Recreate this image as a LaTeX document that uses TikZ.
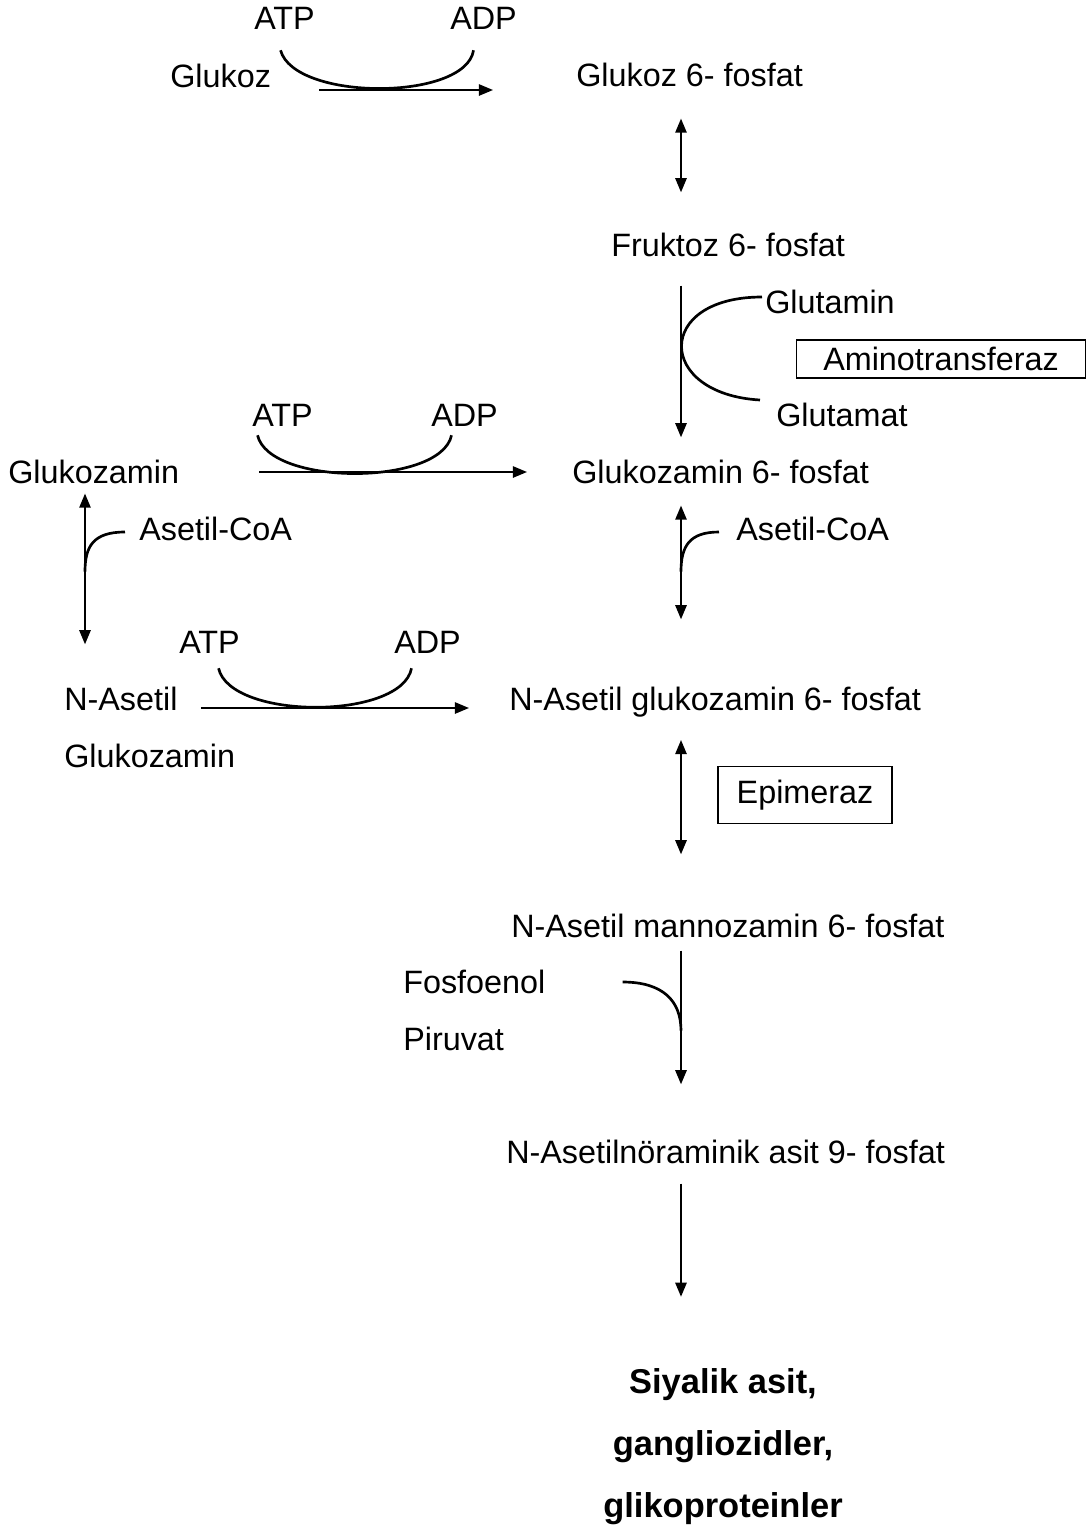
\documentclass[tikz,border=0pt]{standalone}
\usepackage{fontspec}
\setmainfont{Liberation Sans}
\usetikzlibrary{arrows.meta,calc}

\begin{document}
\begin{tikzpicture}[x=0.025cm, y=-0.025cm,
    lbl/.style={anchor=base west, inner sep=0pt, font=\fontsize{23}{27}\selectfont},
    prod/.style={anchor=base, inner sep=0pt, font=\fontsize{24.5}{29}\selectfont\bfseries},
    enzyme/.style={draw, line width=1.2pt, inner sep=0pt, font=\fontsize{23}{27}\selectfont},
    rxn/.style={-{Triangle[length=10pt,width=8pt]}, line width=1.3pt},
    rev/.style={{Triangle[length=10pt,width=8pt]}-{Triangle[length=10pt,width=8pt]}, line width=1.3pt},
    cof/.style={line width=1.9pt}
  ]
  \useasboundingbox (0,0) rectangle (1088,1528);
  \coordinate (ax) at (681,0);
  \coordinate (lax) at (85,0);

  \node[lbl] (atp1) at (254,29) {ATP};
  \node[lbl] (adp1) at (450,29) {ADP};
  \node[lbl] (glk) at (170,87) {Glukoz};
  \node[lbl] (g6p) at (576,86) {Glukoz 6- fosfat};
  \node[lbl] (f6p) at (611,256) {Fruktoz 6- fosfat};
  \node[lbl] (gln) at (765,313) {Glutamin};
  \node[enzyme, minimum width=7.225cm, minimum height=0.95cm] (amt) at (941,359) {Aminotransferaz};
  \node[lbl] (glu) at (776,426) {Glutamat};
  \node[lbl] (atp2) at (252,426) {ATP};
  \node[lbl] (adp2) at (431,426) {ADP};
  \node[lbl] (gam) at (8,483) {Glukozamin};
  \node[lbl] (gam6p) at (572,483) {Glukozamin 6- fosfat};
  \node[lbl] (aca1) at (139,540) {Asetil-CoA};
  \node[lbl] (aca2) at (736,540) {Asetil-CoA};
  \node[lbl] (atp3) at (179,653) {ATP};
  \node[lbl] (adp3) at (394,653) {ADP};
  \node[lbl] (nag) at (64,710) {N-Asetil};
  \node[lbl] (nag2) at (64,767) {Glukozamin};
  \node[lbl] (nag6p) at (509,710) {N-Asetil glukozamin 6- fosfat};
  \node[enzyme, minimum width=4.35cm, minimum height=1.425cm] (epi) at (805,795) {Epimeraz};
  \node[lbl] (nam6p) at (511,937) {N-Asetil mannozamin 6- fosfat};
  \node[lbl] (pep) at (403,993) {Fosfoenol};
  \node[lbl] (pep2) at (403,1050) {Piruvat};
  \node[lbl] (neu9p) at (506,1163) {N-Asetilnöraminik asit 9- fosfat};
  \node[prod] (sia1) at (723,1393) {Siyalik asit,};
  \node[prod] (sia2) at (723,1455) {gangliozidler,};
  \node[prod] (sia3) at (723,1517) {glikoproteinler};

  \draw[rxn] ($(glk.base east)+(48,3)$) -- ($(g6p.base west)+(-83,4)$);
  \draw[cof] ($(atp1.south)+(-4,21)$) .. controls +(14,51) and +(-8,51) .. ($(adp1.south)+(-10,21)$);
  \draw[rev] ($(g6p.south -| ax)+(0,32)$) -- ($(f6p.north -| ax)+(0,-40)$);
  \draw[rxn] ($(f6p.south -| ax)+(0,29)$) -- ($(gam6p.north -| ax)+(0,-22)$);
  \draw[cof] ($(gln.base west)+(-3,-16)$) .. controls +(-108,0) and +(-104,-6) .. ($(glu.base west)+(-16,-26)$);

  \draw[rxn] ($(gam.base east)+(80,-11)$) -- ($(gam6p.base west)+(-45,-11)$);
  \draw[cof] ($(atp2.south)+(-25,9)$) .. controls +(12,51) and +(-11,51) .. ($(adp2.south)+(-13,9)$);
  \draw[rev] ($(gam.south -| lax)+(0,10)$) -- ($(nag.north -| lax)+(0,-42)$);
  \draw[cof] ($(aca1.base west)+(-14,-8)$) .. controls +(-32,0) and +(0,-25) .. ($(gam.south -| lax)+(0,88)$);
  \draw[rev] ($(gam6p.south -| ax)+(0,22)$) -- ($(nag6p.north -| ax)+(0,-67)$);
  \draw[cof] ($(aca2.base west)+(-17,-8)$) .. controls +(-30,0) and +(0,-25) .. ($(gam6p.south -| ax)+(0,88)$);

  \draw[rxn] ($(nag.base east)+(23,-2)$) -- ($(nag6p.base west)+(-40,-2)$);
  \draw[cof] ($(atp3.south)+(9,15)$) .. controls +(12,52) and +(-10,52) .. ($(adp3.south)+(-16,15)$);
  \draw[rev] ($(nag6p.south -| ax)+(0,23)$) -- ($(nam6p.north -| ax)+(0,-59)$);

  \draw[rxn] ($(nam6p.south -| ax)+(0,13)$) -- ($(neu9p.north -| ax)+(0,-55)$);
  \draw[cof] ($(pep.base east)+(77,-11)$) .. controls +(40,0) and +(0,-30) .. ($(nam6p.south -| ax)+(0,93)$);
  \draw[rxn] ($(neu9p.south -| ax)+(0,20)$) -- ($(sia1.north -| ax)+(0,-71)$);
\end{tikzpicture}
\end{document}
